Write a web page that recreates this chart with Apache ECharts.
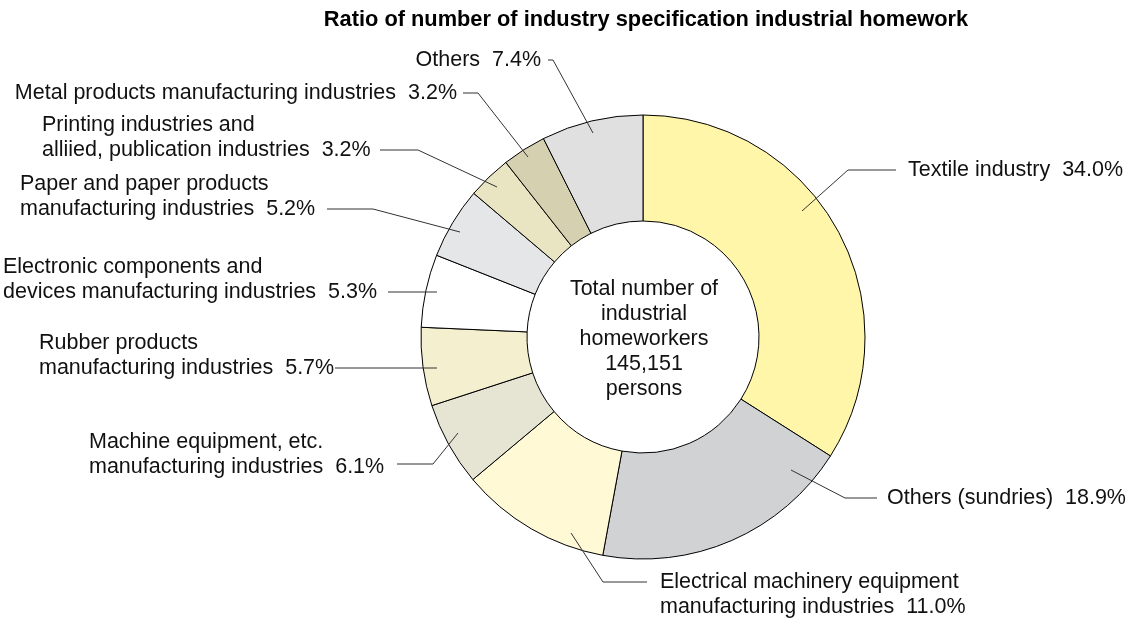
<!DOCTYPE html>
<html>
<head>
<meta charset="utf-8">
<script src="https://cdn.jsdelivr.net/npm/echarts@6/dist/echarts.min.js"></script>
<style>
  html, body { margin: 0; padding: 0; background: #fff; }
  #main { width: 1132px; height: 624px; }
</style>
</head>
<body>
<div id="main"></div>
<script>
// 数据
var industries = [
    'Textile industry',
    'Others (sundries)',
    'Electrical machinery equipment\nmanufacturing industries',
    'Machine equipment, etc.\nmanufacturing industries',
    'Rubber products\nmanufacturing industries',
    'Electronic components and\ndevices manufacturing industries',
    'Paper and paper products\nmanufacturing industries',
    'Printing industries and\nalliied, publication industries',
    'Metal products manufacturing industries',
    'Others'
];
var ratios = [34.0, 18.9, 11.0, 6.1, 5.7, 5.3, 5.2, 3.2, 3.2, 7.4];
var colors = ['#fff6aa', '#d1d2d4', '#fff9d6', '#e6e4d3', '#f4efce',
              '#ffffff', '#e5e6e8', '#e9e4c1', '#d4d0b0', '#e0e0e0'];
var centerText = 'Total number of\nindustrial\nhomeworkers\n145,151\npersons';

// label placement: text x, text y (block middle), align, leader line points
var labelPos = [
    { x: 908, y: 170, align: 'left', line: [[802, 211], [848, 170], [896, 170]] },
    { x: 887, y: 498, align: 'left', line: [[791, 470], [845, 498], [877, 498]] },
    { x: 660, y: 595, align: 'left', line: [[571, 533], [603, 582], [647, 582]] },
    { x: 89, y: 455, align: 'left', line: [[458, 433], [433, 464], [397, 464]] },
    { x: 39, y: 356, align: 'left', line: [[437, 368], [386, 368], [335, 368]] },
    { x: 3, y: 280, align: 'left', line: [[437, 292], [412, 292], [388, 292]] },
    { x: 20, y: 197, align: 'left', line: [[460, 232], [373, 209], [327, 209]] },
    { x: 42, y: 138, align: 'left', line: [[497, 187], [418, 150], [380, 150]] },
    { x: 457, y: 93, align: 'right', line: [[528, 157], [478, 93], [463, 93]] },
    { x: 541, y: 60, align: 'right', line: [[593, 133], [553, 60], [548, 60]] }
];

var pieData = industries.map(function (name, i) {
    return { name: name, value: ratios[i], itemStyle: { color: colors[i] } };
});

// 引出线 (drawn on top of the slices)
var leaderLines = labelPos.map(function (lp) {
    return {
        type: 'polyline',
        z: 100,
        silent: true,
        shape: { points: lp.line },
        style: { stroke: '#333', lineWidth: 1, fill: null }
    };
});

var myChart = echarts.init(document.getElementById('main'));

option = {
    animation: false,
    textStyle: { fontFamily: 'Liberation Sans, Arial, sans-serif' },
    title: [
        {
            text: 'Ratio of number of industry specification industrial homework',
            left: 641,
            top: 4,
            textAlign: 'center',
            textStyle: { fontSize: 21.8, fontWeight: 'bold', color: '#000' }
        },
        {
            text: centerText,
            left: 639,
            top: 272,
            textAlign: 'center',
            textStyle: { fontSize: 21.5, fontWeight: 'normal', color: '#111', lineHeight: 25 }
        }
    ],
    graphic: leaderLines,
    series: [
        {
            type: 'pie',
            center: [643, 337],
            radius: [116, 222],
            startAngle: 90,
            clockwise: true,
            avoidLabelOverlap: false,
            itemStyle: { borderColor: '#000', borderWidth: 1 },
            label: {
                show: true,
                position: 'outside',
                color: '#111',
                fontSize: 21.5,
                lineHeight: 25,
                formatter: function (p) {
                    return p.name + '  ' + p.value.toFixed(1) + '%';
                }
            },
            labelLine: { show: false },
            labelLayout: function (params) {
                var lp = labelPos[params.dataIndex];
                return {
                    x: lp.x,
                    y: lp.y,
                    align: lp.align,
                    verticalAlign: 'middle'
                };
            },
            emphasis: { disabled: true },
            data: pieData
        }
    ]
};

myChart.setOption(option);
</script>
</body>
</html>
